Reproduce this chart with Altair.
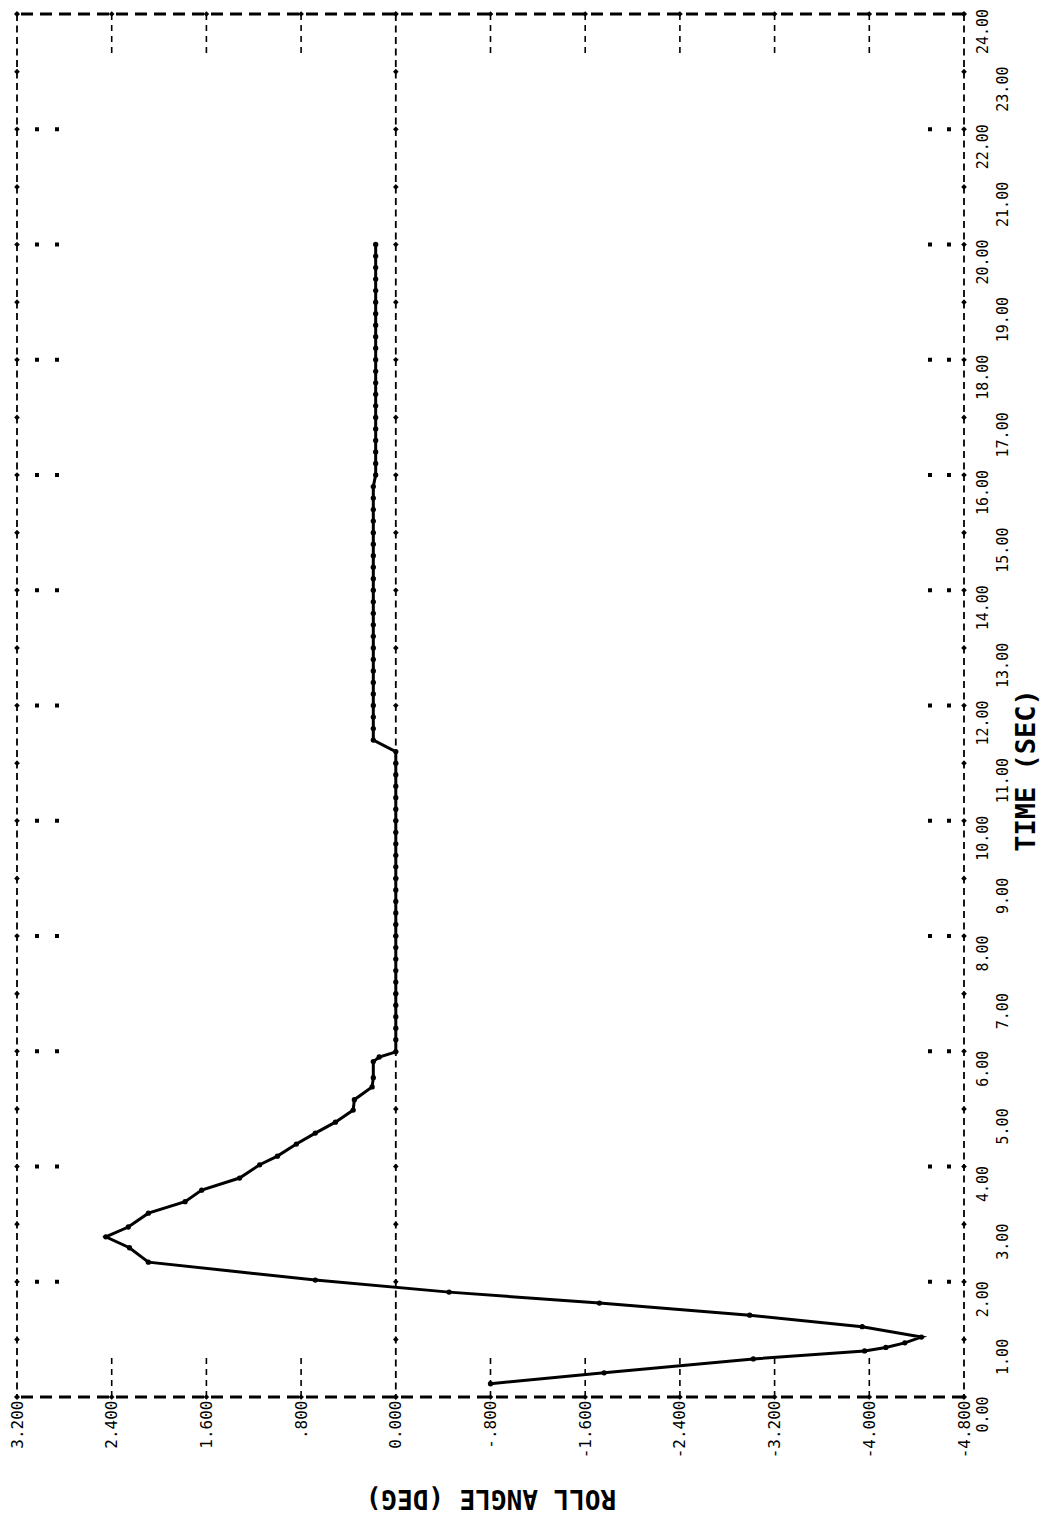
import altair as alt
import pandas as pd

# ---- data (time in s, roll angle in deg) ----
TIME_TRANSIENT = [0.23, 0.42, 0.66, 0.80, 0.86, 0.94, 1.04, 1.22, 1.42, 1.63, 1.82, 2.03,
                  2.34, 2.59, 2.78, 2.95, 3.19, 3.39, 3.59, 3.80, 4.03, 4.18, 4.39, 4.58,
                  4.77, 4.98, 5.16, 5.38, 5.54, 5.82, 5.90, 5.99]
ROLL_TRANSIENT = [-0.80, -1.76, -3.02, -3.96, -4.14, -4.30, -4.44, -3.94, -2.99, -1.72, -0.45, 0.68,
                  2.09, 2.25, 2.45, 2.26, 2.09, 1.78, 1.64, 1.32, 1.15, 1.00, 0.84, 0.68,
                  0.51, 0.36, 0.35, 0.20, 0.19, 0.19, 0.14, 0.00]

TIME_ZERO = [6.2, 6.4, 6.6, 6.8, 7.0, 7.2, 7.4, 7.6, 7.8, 8.0, 8.2, 8.4, 8.6, 8.8, 9.0,
             9.2, 9.4, 9.6, 9.8, 10.0, 10.2, 10.4, 10.6, 10.8, 11.0, 11.2]
ROLL_ZERO = [0.0, 0.0, 0.0, 0.0, 0.0, 0.0, 0.0, 0.0, 0.0, 0.0, 0.0, 0.0, 0.0, 0.0, 0.0,
             0.0, 0.0, 0.0, 0.0, 0.0, 0.0, 0.0, 0.0, 0.0, 0.0, 0.0]

TIME_HOLD1 = [11.4, 11.6, 11.8, 12.0, 12.2, 12.4, 12.6, 12.8, 13.0, 13.2, 13.4, 13.6,
              13.8, 14.0, 14.2, 14.4, 14.6, 14.8, 15.0, 15.2, 15.4, 15.6, 15.8]
ROLL_HOLD1 = [0.19, 0.19, 0.19, 0.19, 0.19, 0.19, 0.19, 0.19, 0.19, 0.19, 0.19, 0.19,
              0.19, 0.19, 0.19, 0.19, 0.19, 0.19, 0.19, 0.19, 0.19, 0.19, 0.19]

TIME_HOLD2 = [16.0, 16.2, 16.4, 16.6, 16.8, 17.0, 17.2, 17.4, 17.6, 17.8, 18.0, 18.2,
              18.4, 18.6, 18.8, 19.0, 19.2, 19.4, 19.6, 19.8, 20.0]
ROLL_HOLD2 = [0.17, 0.17, 0.17, 0.17, 0.17, 0.17, 0.17, 0.17, 0.17, 0.17, 0.17, 0.17,
              0.17, 0.17, 0.17, 0.17, 0.17, 0.17, 0.17, 0.17, 0.17]

ROLL_TICKS = [3.2, 2.4, 1.6, 0.8, 0.0, -0.8, -1.6, -2.4, -3.2, -4.0, -4.8]
ROLL_LABELS = ["3.200", "2.400", "1.600", ".800", "0.000", "-.800", "-1.600",
               "-2.400", "-3.200", "-4.000", "-4.800"]
TIME_TICKS = [0, 1, 2, 3, 4, 5, 6, 7, 8, 9, 10, 11, 12, 13, 14, 15, 16, 17, 18, 19, 20,
              21, 22, 23, 24]
TIME_LABELS = ["0.00", "1.00", "2.00", "3.00", "4.00", "5.00", "6.00", "7.00", "8.00",
               "9.00", "10.00", "11.00", "12.00", "13.00", "14.00", "15.00", "16.00",
               "17.00", "18.00", "19.00", "20.00", "21.00", "22.00", "23.00", "24.00"]

FRAME_ROLL = [3.2, 0.0, -4.8]          # dashed full-height lines (edges + zero line)
FRAME_TIME = [0, 24]                   # dashed horizontal edges

# ---- tables ----
curve = pd.DataFrame({
    "time": TIME_TRANSIENT + TIME_ZERO + TIME_HOLD1 + TIME_HOLD2,
    "roll": ROLL_TRANSIENT + ROLL_ZERO + ROLL_HOLD1 + ROLL_HOLD2,
})
vlines = pd.DataFrame({"roll": FRAME_ROLL})
hlines = pd.DataFrame({"time": FRAME_TIME})
vdiamonds = pd.DataFrame([{"roll": r, "time": t} for r in FRAME_ROLL for t in TIME_TICKS])
hdiamonds = pd.DataFrame([{"roll": r, "time": t} for r in ROLL_TICKS for t in FRAME_TIME])
inner = [r for r in ROLL_TICKS if r not in FRAME_ROLL]
bottom_tk = pd.DataFrame({"roll": inner, "time": [FRAME_TIME[0]] * len(inner)})
top_tk = pd.DataFrame({"roll": inner, "time": [FRAME_TIME[1]] * len(inner)})
evens = [t for t in TIME_TICKS if t % 2 == 0 and 0 < t < 24]
left_marks = pd.DataFrame({"roll": [FRAME_ROLL[0]] * len(evens), "time": evens})
right_marks = pd.DataFrame({"roll": [FRAME_ROLL[-1]] * len(evens), "time": evens})

W, H = 947, 1383
MONO = "DejaVu Sans Mono"

xscale = alt.Scale(domain=[-4.8, 3.2], reverse=True, nice=False, zero=False)
yscale = alt.Scale(domain=[0, 24], nice=False, zero=False)

roll_label_expr = "[{}][indexof([{}], datum.value)]".format(
    ", ".join("'%s'" % s for s in ROLL_LABELS), ", ".join(str(v) for v in ROLL_TICKS))
time_arr = "[{}]".format(", ".join("'%s'" % s for s in TIME_LABELS))
time_label_expr = ("datum.value % 2 == 0 ? {a}[datum.value] : ['', {a}[datum.value]]"
                   .format(a=time_arr))

x_axis = alt.Axis(
    orient="bottom", values=ROLL_TICKS, labelExpr=roll_label_expr,
    labelAngle=270, labelAlign="right", labelBaseline="middle", labelPadding=3,
    labelFont=MONO, labelFontSize=16, labelColor="black", labelOverlap=False,
    labelFlush=False, ticks=False, domain=False, grid=False,
    title="ROLL ANGLE (DEG)", titleAngle=180, titleFont=MONO, titleFontSize=26,
    titleFontWeight="bold", titleColor="black", titleY=100, titleBaseline="middle",
    titleAlign="center",
)
y_axis = alt.Axis(
    orient="right", values=TIME_TICKS, labelExpr=time_label_expr,
    labelAngle=270, labelAlign="center", labelBaseline="top", labelPadding=11,
    labelLineHeight=20, labelOffset=17, labelFont=MONO, labelFontSize=15,
    labelColor="black", labelOverlap=False, labelFlush=False, labelBound=False,
    ticks=False, domain=False, grid=False,
    title="TIME (SEC)", titleAngle=270, titleFont=MONO, titleFontSize=27,
    titleFontWeight="bold", titleColor="black", titleX=62, titleY=756,
    titleAlign="center", titleBaseline="middle",
)


def X(ax=None):
    if ax is None:
        return alt.X("roll:Q", scale=xscale)
    return alt.X("roll:Q", scale=xscale, axis=ax)


def Y(ax=None):
    if ax is None:
        return alt.Y("time:Q", scale=yscale)
    return alt.Y("time:Q", scale=yscale, axis=ax)


line = alt.Chart(curve).mark_line(color="black", strokeWidth=3).encode(
    x=X(x_axis), y=Y(y_axis), order="time:Q")
pts = alt.Chart(curve).mark_circle(color="black", size=28, opacity=1).encode(x=X(), y=Y())

v_rules = alt.Chart(vlines).mark_rule(color="black", strokeWidth=1.8,
                                      strokeDash=[7, 4.5]).encode(x=X())
h_rules = alt.Chart(hlines).mark_rule(color="black", strokeWidth=3,
                                      strokeDash=[12, 7]).encode(y=Y())
v_dia = alt.Chart(vdiamonds).mark_point(shape="diamond", filled=True, color="black",
                                        size=32, opacity=1).encode(x=X(), y=Y())
h_dia = alt.Chart(hdiamonds).mark_point(shape="diamond", filled=True, color="black",
                                        size=32, opacity=1).encode(x=X(), y=Y())
bottom_ticks = alt.Chart(bottom_tk).mark_rule(
    color="black", strokeWidth=1.6, strokeDash=[6, 5], y2Offset=-40
).encode(x=X(), y=Y(), y2="time:Q")
top_ticks = alt.Chart(top_tk).mark_rule(
    color="black", strokeWidth=1.6, strokeDash=[6, 5], y2Offset=40
).encode(x=X(), y=Y(), y2="time:Q")

dot_layers = []
for df, offs in ((left_marks, (20, 40)), (right_marks, (-15, -34))):
    for o in offs:
        dot_layers.append(
            alt.Chart(df).mark_square(color="black", size=16, opacity=1, xOffset=o)
            .encode(x=X(), y=Y())
        )

chart = alt.layer(
    line, pts, v_rules, h_rules, bottom_ticks, top_ticks, *dot_layers, v_dia, h_dia
).properties(
    width=W, height=H,
    autosize=alt.AutoSizeParams(type="none"),
    padding={"left": 17, "top": 14, "right": 79, "bottom": 118},
    background="white",
).configure_view(strokeWidth=0)

chart.save("out.html", embed_options={"renderer": "svg", "actions": False})
